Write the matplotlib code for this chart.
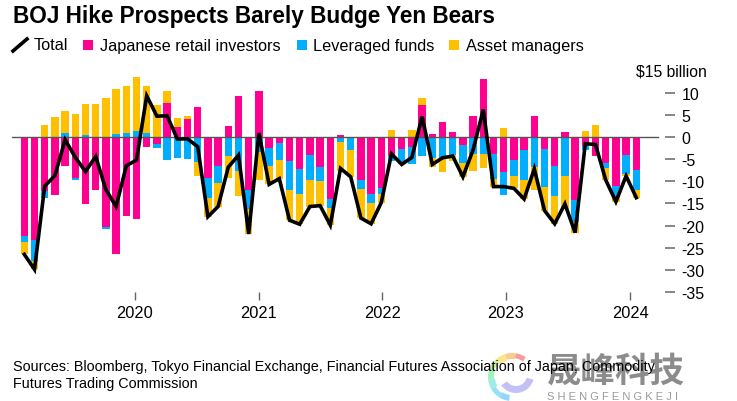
#!/usr/bin/env python3
"""BOJ hike prospects / yen positioning stacked bars with total line"""

import numpy as np
import matplotlib
matplotlib.use("Agg")
import matplotlib.pyplot as plt
from matplotlib.patches import Rectangle, Wedge
from matplotlib.lines import Line2D
from matplotlib.transforms import IdentityTransform

plt.rcParams['font.family'] = ['Liberation Sans', 'DejaVu Sans']

# monthly values, $ billion
retail = [-22.4, -23.2, -12.2, -13.1, -6.6, -9.3, -15.2, -11.9, -20.4, -26.4, -17.9, -18.6,
          -2.3, -1.5, 7.7, 2.2, 4.1, 6.7, -9.3, -6.6, 2.5, 9.2, -12.0, 10.5,
          -2.5, -1.4, -5.5, -7.2, -4.1, -6.7, -14.1, 0.45, -0.3, -9.7, -12.9, -11.6,
          -4.4, -2.7, -2.3, 7.2, 0.6, 3.3, 1.2, -1.8, 4.7, 13.2, -3.8, -7.8,
          -5.1, -2.9, 4.7, -2.7, -6.5, 1.1, -14.3, -2.1, -4.4, -5.8, -11.0, -4.0, -7.5]
leveraged = [-1.4, -4.7, -1.5, 0, 0.9, -0.3, 0.4, 0, -0.3, 0.75, 0.9, 1.35,
             0.9, -1.0, -5.2, -4.7, -5.0, -5.7, -4.4, -3.8, -4.4, -7.7, -4.3, -3.3,
             -4.1, -3.8, -6.5, -5.6, -5.7, -3.3, -2.0, -1.1, -2.6, -2.0, -2.0, -1.35,
             -1.0, -3.5, -3.9, -4.2, -4.8, -4.7, -4.05, -4.0, -3.9, -3.9, -5.6, -5.4,
             -3.8, -6.9, -6.8, -8.6, -6.9, -8.8, -5.0, -0.8, 0, -1.2, -2.6, -4.3, -4.5]
asset = [-2.7, -2.0, 2.7, 4.5, 5.0, 5.1, 7.1, 7.4, 8.9, 10.1, 10.6, 12.2,
         10.7, 7.3, 2.6, 2.1, 0.6, -3.1, -4.3, -5.3, -4.9, -5.6, -5.6, -6.3,
         -4.1, -4.2, -6.8, -6.9, -5.9, -5.5, -3.8, -6.5, -6.1, -6.6, -4.7, -1.9,
         1.6, 0, 1.65, 1.65, -2.0, -3.3, -1.4, -3.2, -3.7, -3.1, -1.8, 2.0,
         -2.7, -4.2, -5.1, -5.3, -6.2, -7.4, -2.3, 1.35, 2.7, -2.7, -1.0, -0.45, -1.7]
total = [-26.5, -29.9, -11.1, -8.7, -0.6, -4.6, -7.8, -4.4, -11.9, -15.7, -6.5, -5.2,
         9.3, 4.7, 4.8, -0.45, -0.4, -2.2, -18.0, -15.7, -6.8, -4.1, -21.9, 0.9,
         -10.7, -9.4, -18.8, -19.7, -15.7, -15.5, -19.9, -7.1, -9.0, -18.3, -19.6, -14.8,
         -3.8, -6.2, -4.6, 4.65, -6.2, -4.7, -4.3, -9.0, -2.9, 6.2, -11.2, -11.2,
         -11.6, -14.0, -7.2, -16.6, -19.6, -15.1, -21.6, -1.5, -1.7, -9.7, -14.6, -8.8, -13.7]

year_labels = ['2020', '2021', '2022', '2023', '2024']
year_pos = [10.85, 22.98, 35.1, 47.2, 59.4]
y_ticks = [10, 5, 0, -5, -10, -15, -20, -25, -30, -35]

PINK = '#ff0090'
BLUE = '#00adff'
YELLOW = '#ffc000'
W, H = 737, 402


def fx(px):
    return px / W


def fy(py):
    return 1 - py / H


fig = plt.figure(figsize=(W / 100, H / 100), dpi=100)

# axes placed in pixels: 10.2 px per bar, 4.43 px per unit, zero at y=138
x0, step = 24.3, 10.2
left, right, top, bottom = 12, 665, 72, 293
ax = fig.add_axes([fx(left), fy(bottom), (right - left) / W, (bottom - top) / H])
ax.set_xlim((left - x0) / step, (right - x0) / step)
ax.set_ylim(-35, 35 * (138 - top) / (bottom - 138))

x = np.arange(len(total))
series = [(retail, PINK), (leveraged, BLUE), (asset, YELLOW)]
pos = np.zeros(len(x))
neg = np.zeros(len(x))
for vals, color in series:
    vals = np.array(vals)
    base = np.where(vals >= 0, pos, neg)
    ax.bar(x, vals, bottom=base, width=0.72, color=color, linewidth=0, zorder=2)
    pos += np.clip(vals, 0, None)
    neg += np.clip(vals, None, 0)

ax.plot([(left - x0) / step, (658 - x0) / step], [0, 0], color='#555555', lw=1.0, zorder=3)
ax.plot(x, total, color='black', lw=2.6, solid_joinstyle='miter', zorder=4)

for s in ax.spines.values():
    s.set_visible(False)
ax.patch.set_alpha(0)

ax.yaxis.tick_right()
ax.set_yticks(y_ticks)
ax.set_yticklabels([str(v) for v in y_ticks], ha='left', fontsize=11.5, color='black')
ax.tick_params(axis='y', length=7, width=1.1, color='#666666', pad=5)
ax.set_xticks(year_pos)
ax.set_xticklabels(year_labels, fontsize=11.8)
ax.tick_params(axis='x', length=6, width=1.0, color='#666666', pad=3.5)

fig.text(fx(707), fy(72), '$15 billion', ha='right', va='center', fontsize=11.3)

# title and legend
fig.text(fx(13), fy(17), 'BOJ Hike Prospects Barely Budge Yen Bears', fontsize=16.3,
         fontweight='bold', va='center')

fig.add_artist(Line2D([fx(13), fx(27)], [fy(52), fy(40)], color='black', lw=2.6))
fig.text(fx(34), fy(50.5), 'Total', fontsize=11.7, va='baseline')
for px, color in [(83, PINK), (297, BLUE), (449, YELLOW)]:
    fig.add_artist(Rectangle((fx(px), fy(51)), 10 / W, 10 / H, color=color, lw=0,
                             transform=fig.transFigure))
fig.text(fx(100), fy(50.5), 'Japanese retail investors', fontsize=11.7, va='baseline')
fig.text(fx(313), fy(50.5), 'Leveraged funds', fontsize=11.7, va='baseline')
fig.text(fx(466), fy(50.5), 'Asset managers', fontsize=11.7, va='baseline')

# watermark stamped under the source note, logo is a rough ring of pastel wedges
logo_colors = ['#f58a8a', '#fbc27a', '#f9e27a', '#bff08a', '#8ff0b0', '#8fe8e0', '#7fdcf5', '#7fd0fa']
for i, c in enumerate(logo_colors):
    fig.add_artist(Wedge((512, H - 378), 24, 55 + i * 26, 55 + (i + 1) * 26, width=5 + i % 3,
                         color=c, lw=0, transform=IdentityTransform(), alpha=0.85))
fig.add_artist(Wedge((516, H - 376), 18, 215, 345, width=7, color='#b9b5f5', lw=0,
                     transform=IdentityTransform(), alpha=0.85))
fig.text(fx(547), fy(371), '晟峰科技', fontsize=24.8, color='#8c8c8c', va='center', fontweight='bold',
         family=['Noto Sans CJK SC', 'DejaVu Sans'], zorder=1)
fig.text(fx(547), fy(397), ' '.join('SHENGFENGKEJI'), fontsize=8, color='#9a9a9a', va='center', zorder=1)

# source note
fig.text(fx(13), fy(367), 'Sources: Bloomberg, Tokyo Financial Exchange, Financial Futures '
         'Association of Japan, Commodity', fontsize=10.4, va='center', zorder=5)
fig.text(fx(13), fy(384), 'Futures Trading Commission', fontsize=10.4, va='center', zorder=5)

fig.savefig('out.png', dpi=100)
